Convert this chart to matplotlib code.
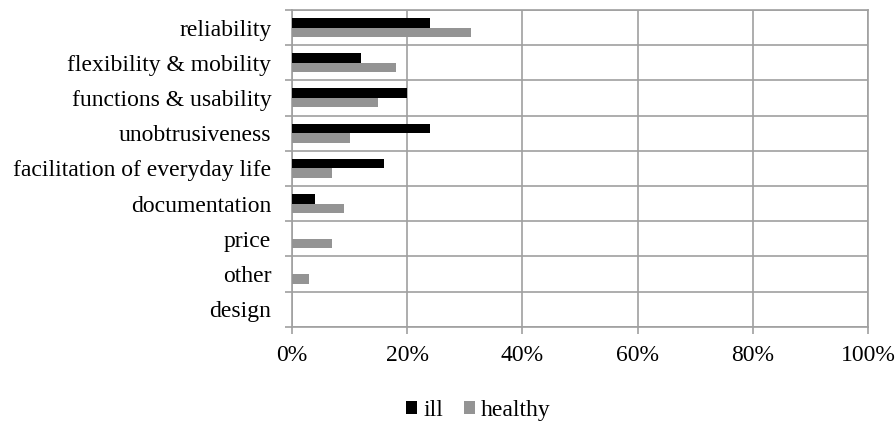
import matplotlib.pyplot as plt
import numpy as np

plt.rcParams['font.family'] = ['Liberation Serif', 'DejaVu Serif']

# categories top to bottom
categories = ["reliability", "flexibility & mobility", "functions & usability",
              "unobtrusiveness", "facilitation of everyday life", "documentation",
              "price", "other", "design"]
ill = [24, 12, 20, 24, 16, 4, 0, 0, 0]
healthy = [31, 18, 15, 10, 7, 9, 7, 3, 0]
xticks = [0, 20, 40, 60, 80, 100]

grid_col = "#a0a0a0"
fs = 17

fig = plt.figure(figsize=(8.96, 4.29), dpi=100)
ax = fig.add_axes([0.326, 0.238, 0.6428, 0.7389])

n = len(categories)
y = np.arange(n)
h = 0.27
ax.barh(y - h / 2, ill, height=h, color="black", label="ill", zorder=3)
ax.barh(y + h / 2, healthy, height=h, color="#949494", label="healthy", zorder=3)

ax.set_xlim(0, 100)
ax.set_ylim(n - 0.5, -0.5)

ax.set_xticks(xticks)
ax.set_xticklabels([f"{v}%" for v in xticks], fontsize=fs)
ax.set_yticks(y)
ax.set_yticklabels(categories, fontsize=fs)
ax.tick_params(axis="y", length=0, pad=15)
ax.tick_params(axis="x", length=5, color=grid_col, width=1.2, pad=8)

# boundary lines between categories
ax.set_yticks(np.arange(-0.5, n, 1), minor=True)
ax.tick_params(axis="y", which="minor", length=5, color=grid_col, width=1.2)
ax.grid(axis="y", which="minor", color=grid_col, linewidth=1.2, zorder=0)
ax.grid(axis="x", which="major", color=grid_col, linewidth=1.2, zorder=0)

for s in ax.spines.values():
    s.set_color(grid_col)
    s.set_linewidth(1.2)

fig.legend(loc="center", bbox_to_anchor=(0.534, 0.043), ncol=2, frameon=False,
           fontsize=fs, handlelength=0.45, handleheight=0.45, handletextpad=0.25,
           columnspacing=0.9)

fig.savefig("out.png", dpi=100)
